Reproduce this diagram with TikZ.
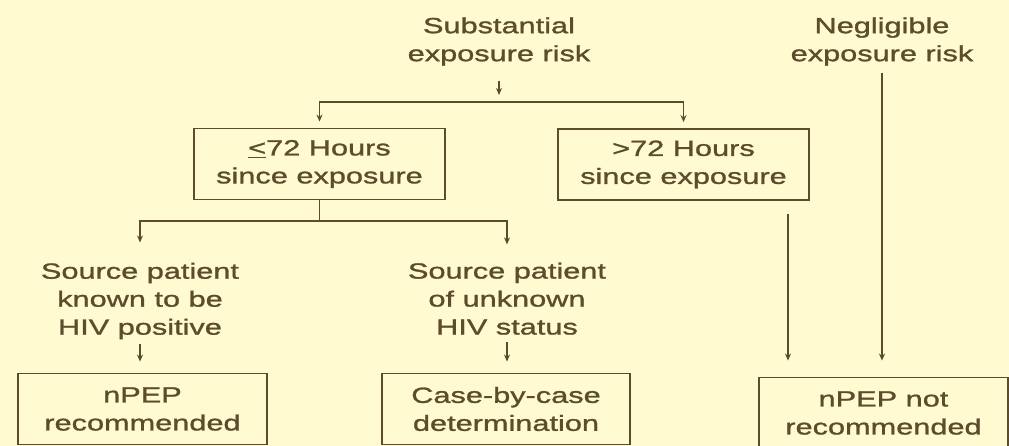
\documentclass[tikz,border=0pt]{standalone}
\usepackage{fontspec}
\setmainfont{Liberation Sans}[FakeStretch=1.4, FakeBold=1.2]
\usepackage{xcolor}
\usepackage{tikz}
\usetikzlibrary{arrows.meta, positioning}
\definecolor{paper}{RGB}{255,250,208}
\definecolor{ink}{RGB}{92,76,44}

\begin{document}
\begin{tikzpicture}[
    x=0.025cm, y=-0.025cm,
    font=\fontsize{15.6}{19.9}\selectfont,
    every node/.style={text=ink},
    box/.style={rectangle, draw=ink, line width=1.3pt, minimum width=#1, minimum height=1.775cm, align=center, inner sep=0pt},
    txt/.style={align=center, inner sep=0pt},
    link/.style={draw=ink, line width=1.3pt},
    arr/.style={link, -{Stealth[length=0.175cm, width=0.15cm]}}
]
\useasboundingbox (0,0) rectangle (1009,446);
\fill[paper] (0,0) rectangle (1009,446);

\node[txt] (sub) at (499,41.5) {Substantial\\exposure risk};
\node[txt] (neg) at (882,41.5) {Negligible\\exposure risk};
\node[box=6.275cm] (lt72) at (319.5,164) {\underline{<}72 Hours\\since exposure};
\node[box=6.275cm] (gt72) at (683.5,164.5) {>72 Hours\\since exposure};
\node[txt] (srcpos) at (140,301) {Source patient\\known to be\\HIV positive};
\node[txt] (srcunk) at (507,298.7) {Source patient\\of unknown\\HIV status};
\node[box=6.225cm] (posbox) at (142.5,409) {nPEP\\recommended};
\node[box=6.2cm] (casebox) at (506,409) {Case-by-case\\determination};
\node[box=6.225cm] (notbox) at (883.5,413) {nPEP not\\recommended};

\coordinate (fork1) at (499,102);
\coordinate (fork2) at (319.5,221);
\coordinate (gtline) at (788,0);

\draw[arr, shorten <=0.375cm, shorten >=0.175cm] (sub) -- (fork1);
\draw[arr, shorten >=0.15cm] (fork1) -| (lt72);
\draw[arr, shorten >=0.15cm] (fork1) -| (gt72);
\draw[link] (lt72) -- (fork2);
\draw[arr, shorten >=0.5cm] (fork2) -| (srcpos);
\draw[arr, shorten >=0.45cm] (fork2) -| (srcunk);
\draw[arr, shorten <=0.125cm, shorten >=0.275cm] (srcpos) -- (srcpos |- posbox.north);
\draw[arr, shorten <=0.175cm, shorten >=0.275cm] (srcunk) -- (srcunk |- casebox.north);
\draw[arr, shorten <=0.325cm, shorten >=0.4cm] (gt72.south -| gtline) -- (notbox.north -| gtline);
\draw[arr, shorten <=0.175cm, shorten >=0.4cm] (neg) -- (neg |- notbox.north);
\end{tikzpicture}
\end{document}
